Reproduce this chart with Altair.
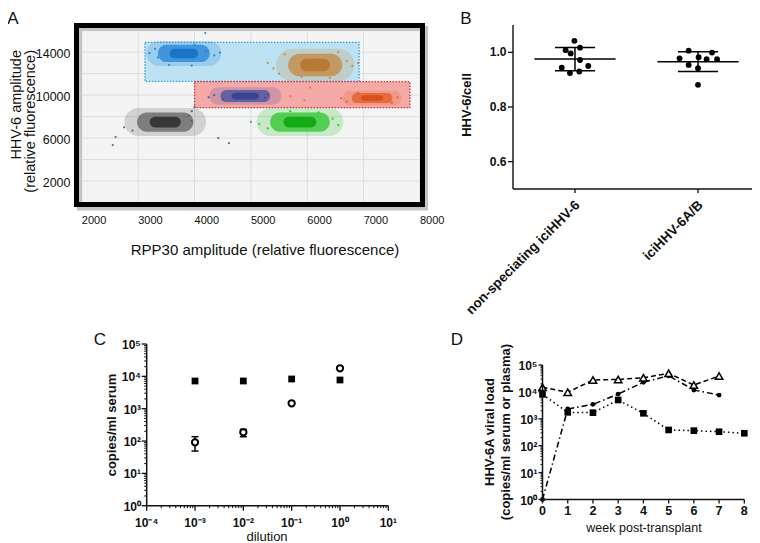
import altair as alt
import pandas as pd

W, H = 744, 535
M = 8
FONT = "Liberation Sans"
INK = "#111111"


def px(v):
    """screen pixel -> chart coordinate"""
    return round(v - M, 2)


EMPTY = alt.Data(values=[{}])

panel_letters = ["A", "B", "C", "D"]

# ---------------- Panel A (ddPCR droplet plot) ----------------
a_x_grid = [2000, 3000, 4000, 5000, 6000, 7000, 8000]
a_y_grid = [2000, 4000, 6000, 8000, 10000, 12000, 14000, 16000]
a_y_ticks = [2000, 6000, 10000, 14000]
a_x_title = "RPP30 amplitude (relative fluorescence)"
a_y_title = ["HHV-6 amplitude", "(relative fluorescence)"]

clusters = ["blue", "brown", "navy", "orange", "gray", "green"]
cluster_x = [3810, 6140, 4900, 7150, 3480, 5870]
cluster_y = [13880, 12800, 9910, 9730, 7490, 7490]
cluster_sx = [460, 480, 440, 360, 500, 530]
cluster_sy = [800, 1050, 560, 470, 900, 900]

gates = ["upper", "lower"]
gate_x1 = [3120, 4000]
gate_x2 = [6920, 7820]
gate_y1 = [11280, 8830]
gate_y2 = [14920, 11250]

spark_x = [3350, 3300, 4200, 4350, 4450, 3550, 3950, 4190, 3200, 4000,
           5300, 5400, 6700, 6800, 5600, 6550, 5900, 6400, 5500, 6900,
           4350, 5300, 4500, 5250, 4250,
           6700, 7600, 6900, 7500, 6600,
           2550, 2600, 3950, 4000, 3900, 2900, 3950, 2750,
           5150, 5300, 6450, 6550, 5700, 6200, 5000,
           4420, 4610, 5700, 6050, 5950]
spark_y = [13500, 14300, 14100, 13700, 13950, 12800, 12750, 15780, 13900, 14700,
           13000, 12500, 13200, 12700, 13800, 14000, 11700, 11600, 12000, 13000,
           10000, 10100, 9600, 9750, 9800,
           9400, 9800, 10200, 9300, 9700,
           5350, 6100, 8500, 8900, 8100, 6700, 7600, 7000,
           7300, 6900, 7800, 7200, 8500, 8400, 7500,
           6000, 5540, 9900, 10700, 9500]
spark_c = (["blue"] * 10 + ["brown"] * 10 + ["navy"] * 5 + ["orange"] * 5
           + ["gray"] * 8 + ["green"] * 7 + ["gray", "gray", "brown", "brown", "brown"])

BODY = {"blue": "#1f7fd6", "brown": "#c4843c", "navy": "#3f4c9f",
        "orange": "#e25a22", "gray": "#5c5c5c", "green": "#27c427"}
CORE = {"blue": "#1570c8", "brown": "#b8762f", "navy": "#34418f",
        "orange": "#d84c16", "gray": "#303030", "green": "#0fa50f"}
GATE_FILL = {"upper": "#bde3f3", "lower": "#f5aaa7"}
GATE_STROKE = {"upper": "#2f9fdc", "lower": "#d8282c"}

# ---------------- Panel B ----------------
b_cats = ["non-speciating iciHHV-6", "iciHHV-6A/B"]
b_group = [0] * 9 + [1] * 9
b_jitter = [-0.005, -0.076, -0.035, 0.041, 0.041, 0.108, -0.108, -0.041, 0.035,
            -0.150, -0.076, 0.005, 0.070, 0.114, 0.155, -0.076, 0.0, 0.0]
b_vals = [1.042, 1.008, 0.996, 1.017, 0.972, 0.950, 0.944, 0.924, 0.930,
          0.978, 1.006, 0.982, 0.975, 0.999, 0.975, 0.954, 0.942, 0.881]
b_mean = [0.976, 0.966]
b_sd_hi = [1.018, 1.002]
b_sd_lo = [0.933, 0.930]
b_y_ticks = [0.6, 0.8, 1.0]
b_y_title = "HHV-6/cell"

# ---------------- Panel C ----------------
c_dilution = [0.001, 0.01, 0.1, 1.0]
c_squares = [7180, 7180, 8280, 7710]
c_circles = [91, 186, 1466, 17740]
c_err_dilution = [0.001, 0.01]
c_err_lo = [49, 136]
c_err_hi = [136, 230]
c_x_title = "dilution"
c_y_title = "copies/ml serum"

# ---------------- Panel D ----------------
d_tri_week = [0, 1, 2, 3, 4, 5, 6, 7]
d_tri = [14800, 9700, 27700, 29000, 33600, 49000, 18000, 39000]
d_circ_week = [0, 1, 2, 3, 4, 5, 6, 7]
d_circ = [1, 2300, 3450, 8300, 22800, 40000, 11800, 7600]
d_sq_week = [0, 1, 2, 3, 4, 5, 6, 7, 8]
d_sq = [8100, 1740, 1690, 5000, 1600, 385, 363, 330, 290]
d_x_ticks = [0, 1, 2, 3, 4, 5, 6, 7, 8]
d_x_title = "week post-transplant"
d_y_title = ["HHV-6A viral load", "(copies/ml serum or plasma)"]

# ---------------- helpers ----------------
SUP = {"-": "\u207b", "0": "\u2070", "1": "\u00b9", "2": "\u00b2", "3": "\u00b3",
       "4": "\u2074", "5": "\u2075"}


def pow10_label(k):
    return "10" + "".join(SUP[c] for c in str(k))


def decades(k0, k1):
    return [float(f"1e{k}") for k in range(k0, k1 + 1)]


def minor_ticks(k0, k1):
    return [float(f"{m}e{k}") for k in range(k0, k1) for m in range(2, 10)]


def prule(x1, y1, x2=None, y2=None, w=1.5, color=INK):
    enc = dict(x=alt.value(px(x1)), y=alt.value(px(y1)))
    if x2 is not None:
        enc["x2"] = alt.value(px(x2))
    if y2 is not None:
        enc["y2"] = alt.value(px(y2))
    return alt.Chart(EMPTY).mark_rule(color=color, strokeWidth=w).encode(**enc)


def ptext(text, x, y, size, weight="normal", angle=0, align="center",
          baseline="middle", font=FONT, line_height=None):
    kw = dict(text=text, font=font, fontSize=size, fontWeight=weight, angle=angle,
              align=align, baseline=baseline, color=INK)
    if line_height:
        kw["lineHeight"] = line_height
    return alt.Chart(EMPTY).mark_text(**kw).encode(x=alt.value(px(x)), y=alt.value(px(y)))


def xticks(vals, scale, y, length, w=1.3):
    return alt.Chart(pd.DataFrame({"v": vals})).mark_rule(color=INK, strokeWidth=w).encode(
        x=alt.X("v:Q", scale=scale, axis=None), y=alt.value(px(y)), y2=alt.value(px(y + length)))


def yticks(vals, scale, x, length, w=1.3):
    return alt.Chart(pd.DataFrame({"v": vals})).mark_rule(color=INK, strokeWidth=w).encode(
        y=alt.Y("v:Q", scale=scale, axis=None), x=alt.value(px(x)), x2=alt.value(px(x - length)))


def xlabels(vals, texts, scale, y, size, weight="bold", align="center", baseline="top",
            angle=0, dx=0, font=FONT):
    return alt.Chart(pd.DataFrame({"v": vals, "t": texts})).mark_text(
        font=font, fontSize=size, fontWeight=weight, align=align, baseline=baseline,
        angle=angle, dx=dx, color=INK).encode(
        x=alt.X("v:Q", scale=scale, axis=None), y=alt.value(px(y)), text="t:N")


def ylabels(vals, texts, scale, x, size, weight="bold", dy=0, font=FONT):
    return alt.Chart(pd.DataFrame({"v": vals, "t": texts})).mark_text(
        font=font, fontSize=size, fontWeight=weight, align="right", baseline="middle",
        dy=dy, color=INK).encode(
        y=alt.Y("v:Q", scale=scale, axis=None), x=alt.value(px(x)), text="t:N")


# ================= Panel A =================
xA = alt.Scale(domain=[1950, 8000], range=[px(79), px(420)], zero=False, nice=False)
yA = alt.Scale(domain=[0, 16250], range=[px(202.5), px(28)], zero=False, nice=False)

a_bg = alt.Chart(EMPTY).mark_rect(fill="#f4f4f4").encode(
    x=alt.value(px(79)), x2=alt.value(px(420)), y=alt.value(px(28)), y2=alt.value(px(202.5)))
a_vgrid = alt.Chart(pd.DataFrame({"v": a_x_grid})).mark_rule(color="#dcdcdc", strokeWidth=1).encode(
    x=alt.X("v:Q", scale=xA, axis=None), y=alt.value(px(28)), y2=alt.value(px(202.5)))
a_hgrid = alt.Chart(pd.DataFrame({"v": a_y_grid})).mark_rule(color="#dcdcdc", strokeWidth=1).encode(
    y=alt.Y("v:Q", scale=yA, axis=None), x=alt.value(px(79)), x2=alt.value(px(420)))

dfg = pd.DataFrame({"gate": gates, "x1": gate_x1, "x2": gate_x2, "y1": gate_y1, "y2": gate_y2})
dfg["fill"] = [GATE_FILL[g] for g in gates]
dfg["stroke"] = [GATE_STROKE[g] for g in gates]
a_gates = alt.Chart(dfg).mark_rect(strokeDash=[1.5, 1.5], strokeWidth=1.3).encode(
    x=alt.X("x1:Q", scale=xA, axis=None), x2="x2:Q",
    y=alt.Y("y1:Q", scale=yA, axis=None), y2="y2:Q",
    fill=alt.Fill("fill:N", scale=None), stroke=alt.Stroke("stroke:N", scale=None))

dfc = pd.DataFrame({"cluster": clusters, "x": cluster_x, "y": cluster_y,
                    "sx": cluster_sx, "sy": cluster_sy})
dfc["body"] = [BODY[c] for c in clusters]
dfc["core"] = [CORE[c] for c in clusters]


def blob(k, opacity, colcol):
    return alt.Chart(dfc).transform_calculate(
        x1=f"datum.x - {k}*datum.sx", x2=f"datum.x + {k}*datum.sx",
        y1=f"datum.y - {k}*datum.sy", y2=f"datum.y + {k}*datum.sy",
    ).mark_rect(cornerRadius=200, opacity=opacity).encode(
        x=alt.X("x1:Q", scale=xA, axis=None), x2="x2:Q",
        y=alt.Y("y1:Q", scale=yA, axis=None), y2="y2:Q",
        fill=alt.Fill(f"{colcol}:N", scale=None))


a_halo = blob(1.45, 0.22, "body")
a_body = blob(1.0, 0.72, "body")
a_core = blob(0.55, 0.9, "core")

dfs = pd.DataFrame({"x": spark_x, "y": spark_y, "cluster": spark_c})
dfs["col"] = [BODY[c] for c in spark_c]
a_sparks = alt.Chart(dfs).mark_circle(size=5, opacity=0.9).encode(
    x=alt.X("x:Q", scale=xA, axis=None), y=alt.Y("y:Q", scale=yA, axis=None),
    fill=alt.Fill("col:N", scale=None))

a_shadow = alt.Chart(EMPTY).mark_rect(fillOpacity=0, stroke="#c4c4c4", strokeWidth=5).encode(
    x=alt.value(px(79.5)), x2=alt.value(px(425.5)), y=alt.value(px(28.5)), y2=alt.value(px(208)))
a_frame = alt.Chart(EMPTY).mark_rect(fillOpacity=0, stroke="#000", strokeWidth=5).encode(
    x=alt.value(px(76.5)), x2=alt.value(px(422.5)), y=alt.value(px(25.5)), y2=alt.value(px(204.5)))

a_ylab = ylabels(a_y_ticks, [str(v) for v in a_y_ticks], yA, 70.5, 12.5, weight="normal", dy=2)
a_xlab = xlabels(a_x_grid, [str(v) for v in a_x_grid], xA, 221, 11, weight="normal",
                 align="left", baseline="middle")

panelA = alt.layer(a_bg, a_vgrid, a_hgrid, a_gates, a_halo, a_body, a_core, a_sparks,
                   a_shadow, a_frame, a_ylab, a_xlab)
a_titles = [
    ptext(a_x_title, 265, 250, 15),
    ptext(a_y_title[0], 16.5, 50, 14.5, angle=270, align="right"),
    ptext(a_y_title[1], 31, 50, 14.5, angle=270, align="right"),
]

# ================= Panel B =================
xB = alt.Scale(domain=[-0.504, 1.504], range=[px(513), px(760)], zero=False, nice=False)
yB = alt.Scale(domain=[0.5, 1.1], range=[px(189), px(25)], zero=False, nice=False)

dfb = pd.DataFrame({"group": b_group, "jitter": b_jitter, "value": b_vals})
dfb["xpos"] = dfb["group"] + dfb["jitter"]
b_points = alt.Chart(dfb).mark_circle(size=34, color="#000", opacity=1).encode(
    x=alt.X("xpos:Q", scale=xB, axis=None), y=alt.Y("value:Q", scale=yB, axis=None))

dfbm = pd.DataFrame({"group": [0, 1], "mean": b_mean, "hi": b_sd_hi, "lo": b_sd_lo})
b_base = alt.Chart(dfbm).transform_calculate(
    m1="datum.group - 0.33", m2="datum.group + 0.33",
    c1="datum.group - 0.163", c2="datum.group + 0.163")
b_mean_rule = b_base.mark_rule(color="#000", strokeWidth=1.5).encode(
    x=alt.X("m1:Q", scale=xB, axis=None), x2="m2:Q", y=alt.Y("mean:Q", scale=yB, axis=None))
b_hi_rule = b_base.mark_rule(color="#000", strokeWidth=1.5).encode(
    x=alt.X("c1:Q", scale=xB, axis=None), x2="c2:Q", y=alt.Y("hi:Q", scale=yB, axis=None))
b_lo_rule = b_base.mark_rule(color="#000", strokeWidth=1.5).encode(
    x=alt.X("c1:Q", scale=xB, axis=None), x2="c2:Q", y=alt.Y("lo:Q", scale=yB, axis=None))
b_vert = b_base.mark_rule(color="#000", strokeWidth=1.5).encode(
    x=alt.X("group:Q", scale=xB, axis=None), y=alt.Y("lo:Q", scale=yB, axis=None), y2="hi:Q")

b_xtick = xticks([0, 1], xB, 189, 4)
b_ytick = yticks(b_y_ticks, yB, 513, 5)
b_ylab = ylabels(b_y_ticks, [f"{v:.1f}" for v in b_y_ticks], yB, 506.5, 12)
b_xlab = xlabels([0, 1], b_cats, xB, 196, 13.5, align="right", baseline="top", angle=315, dx=-3)

panelB = alt.layer(b_mean_rule, b_hi_rule, b_lo_rule, b_vert, b_points,
                   b_xtick, b_ytick, b_ylab, b_xlab)
b_extra = [
    prule(513, 25, y2=189, w=1.4),
    prule(513, 189, x2=760, w=1.4),
    ptext(b_y_title, 467, 105, 13, weight="bold", angle=270),
]

# ================= Panel C =================
xC = alt.Scale(type="log", domain=[1e-4, 10], range=[px(146.7), px(388.3)], nice=False)
yC = alt.Scale(type="log", domain=[1, 1e5], range=[px(505.7), px(344)], nice=False)

dfc_pts = pd.DataFrame({"dilution": c_dilution, "sq": c_squares, "circ": c_circles})
dfc_err = pd.DataFrame({"dilution": c_err_dilution, "lo": c_err_lo, "hi": c_err_hi})

c_sq = alt.Chart(dfc_pts).mark_square(size=46, color="#000", opacity=1).encode(
    x=alt.X("dilution:Q", scale=xC, axis=None), y=alt.Y("sq:Q", scale=yC, axis=None))
c_err = alt.Chart(dfc_err).mark_rule(color="#000", strokeWidth=1.5).encode(
    x=alt.X("dilution:Q", scale=xC, axis=None), y=alt.Y("lo:Q", scale=yC, axis=None), y2="hi:Q")
c_cap_lo = alt.Chart(dfc_err).mark_tick(orient="horizontal", size=7, thickness=1.5,
                                         color="#000", opacity=1).encode(
    x=alt.X("dilution:Q", scale=xC, axis=None), y=alt.Y("lo:Q", scale=yC, axis=None))
c_cap_hi = alt.Chart(dfc_err).mark_tick(orient="horizontal", size=7, thickness=1.5,
                                         color="#000", opacity=1).encode(
    x=alt.X("dilution:Q", scale=xC, axis=None), y=alt.Y("hi:Q", scale=yC, axis=None))
c_circ = alt.Chart(dfc_pts).mark_point(shape="circle", filled=True, fill="white", stroke="#000",
                                      strokeWidth=2, size=40, opacity=1).encode(
    x=alt.X("dilution:Q", scale=xC, axis=None), y=alt.Y("circ:Q", scale=yC, axis=None))

c_xdec = decades(-4, 1)
c_ydec = decades(0, 5)
c_ticks = [
    xticks(c_xdec, xC, 505.7, 5, 1.3),
    xticks(minor_ticks(-4, 1), xC, 505.7, 2.5, 1),
    yticks(c_ydec, yC, 146.7, 5, 1.3),
    yticks(minor_ticks(0, 5), yC, 146.7, 2.5, 1),
    xlabels(c_xdec, [pow10_label(k) for k in range(-4, 2)], xC, 527, 12, baseline="alphabetic"),
    ylabels(c_ydec, [pow10_label(k) for k in range(0, 6)], yC, 141, 12, dy=1),
]
panelC = alt.layer(c_sq, c_err, c_cap_lo, c_cap_hi, c_circ, *c_ticks)
c_extra = [
    prule(146.7, 344, y2=505.7, w=1.5),
    prule(146.7, 505.7, x2=388.3, w=1.5),
    ptext(c_x_title, 267, 536.5, 13),
    ptext(c_y_title, 112, 425, 13, weight="bold", angle=270),
]

# ================= Panel D =================
xD = alt.Scale(domain=[0, 8], range=[px(542.5), px(744.3)], zero=False, nice=False)
yD = alt.Scale(type="log", domain=[1, 1e5], range=[px(499.5), px(365)], nice=False)

df_tri = pd.DataFrame({"week": d_tri_week, "v": d_tri})
df_circ = pd.DataFrame({"week": d_circ_week, "v": d_circ})
df_sq = pd.DataFrame({"week": d_sq_week, "v": d_sq})

d_line_sq = alt.Chart(df_sq).mark_line(color="#000", strokeWidth=1.5, strokeDash=[1.5, 3]).encode(
    x=alt.X("week:Q", scale=xD, axis=None), y=alt.Y("v:Q", scale=yD, axis=None))
d_line_circ = alt.Chart(df_circ).mark_line(color="#000", strokeWidth=1.5,
                                           strokeDash=[6, 3, 1.5, 3]).encode(
    x=alt.X("week:Q", scale=xD, axis=None), y=alt.Y("v:Q", scale=yD, axis=None))
d_line_tri = alt.Chart(df_tri).mark_line(color="#000", strokeWidth=1.5, strokeDash=[5, 3]).encode(
    x=alt.X("week:Q", scale=xD, axis=None), y=alt.Y("v:Q", scale=yD, axis=None))
d_pt_sq = alt.Chart(df_sq).mark_square(size=44, color="#000", opacity=1).encode(
    x=alt.X("week:Q", scale=xD, axis=None), y=alt.Y("v:Q", scale=yD, axis=None))
d_pt_circ = alt.Chart(df_circ).mark_circle(size=24, color="#000", opacity=1).encode(
    x=alt.X("week:Q", scale=xD, axis=None), y=alt.Y("v:Q", scale=yD, axis=None))
d_pt_tri = alt.Chart(df_tri).mark_point(shape="triangle-up", filled=True, fill="white",
                                        stroke="#000", strokeWidth=1.5, size=55, opacity=1).encode(
    x=alt.X("week:Q", scale=xD, axis=None), y=alt.Y("v:Q", scale=yD, axis=None))

d_ydec = decades(0, 5)
d_ticks = [
    xticks(d_x_ticks, xD, 499.5, 4, 1.3),
    yticks(d_ydec, yD, 542.5, 4, 1.3),
    yticks(minor_ticks(0, 5), yD, 542.5, 2, 1),
    xlabels(d_x_ticks, [str(v) for v in d_x_ticks], xD, 515, 12.5, baseline="alphabetic"),
    ylabels(d_ydec, [pow10_label(k) for k in range(0, 6)], yD, 537.5, 12, dy=1),
]
panelD = alt.layer(d_line_sq, d_line_circ, d_line_tri, d_pt_sq, d_pt_circ, d_pt_tri, *d_ticks)
d_extra = [
    prule(542.5, 365, y2=499.5, w=1.5),
    prule(542.5, 499.5, x2=744.3, w=1.5),
    ptext(d_x_title, 644, 528, 12.5),
    ptext(d_y_title, 490, 432, 13, weight="bold", angle=270, line_height=16),
]

# ================= panel letters =================
letter_pos = [(13, 19), (466, 19), (100, 340), (457, 340)]
letters = [ptext(t, lx, ly, 17) for t, (lx, ly) in zip(panel_letters, letter_pos)]

chart = alt.layer(
    panelA, panelB, panelC, panelD,
    *a_titles, *b_extra, *c_extra, *d_extra, *letters
).resolve_scale(
    x="independent", y="independent"
).properties(
    width=W, height=H, padding=0, autosize=alt.AutoSizeParams(type="none")
).configure(font=FONT, background="white", view=alt.ViewConfig(stroke=None))

chart.save("out.html", embed_options={"renderer": "svg", "actions": False})
